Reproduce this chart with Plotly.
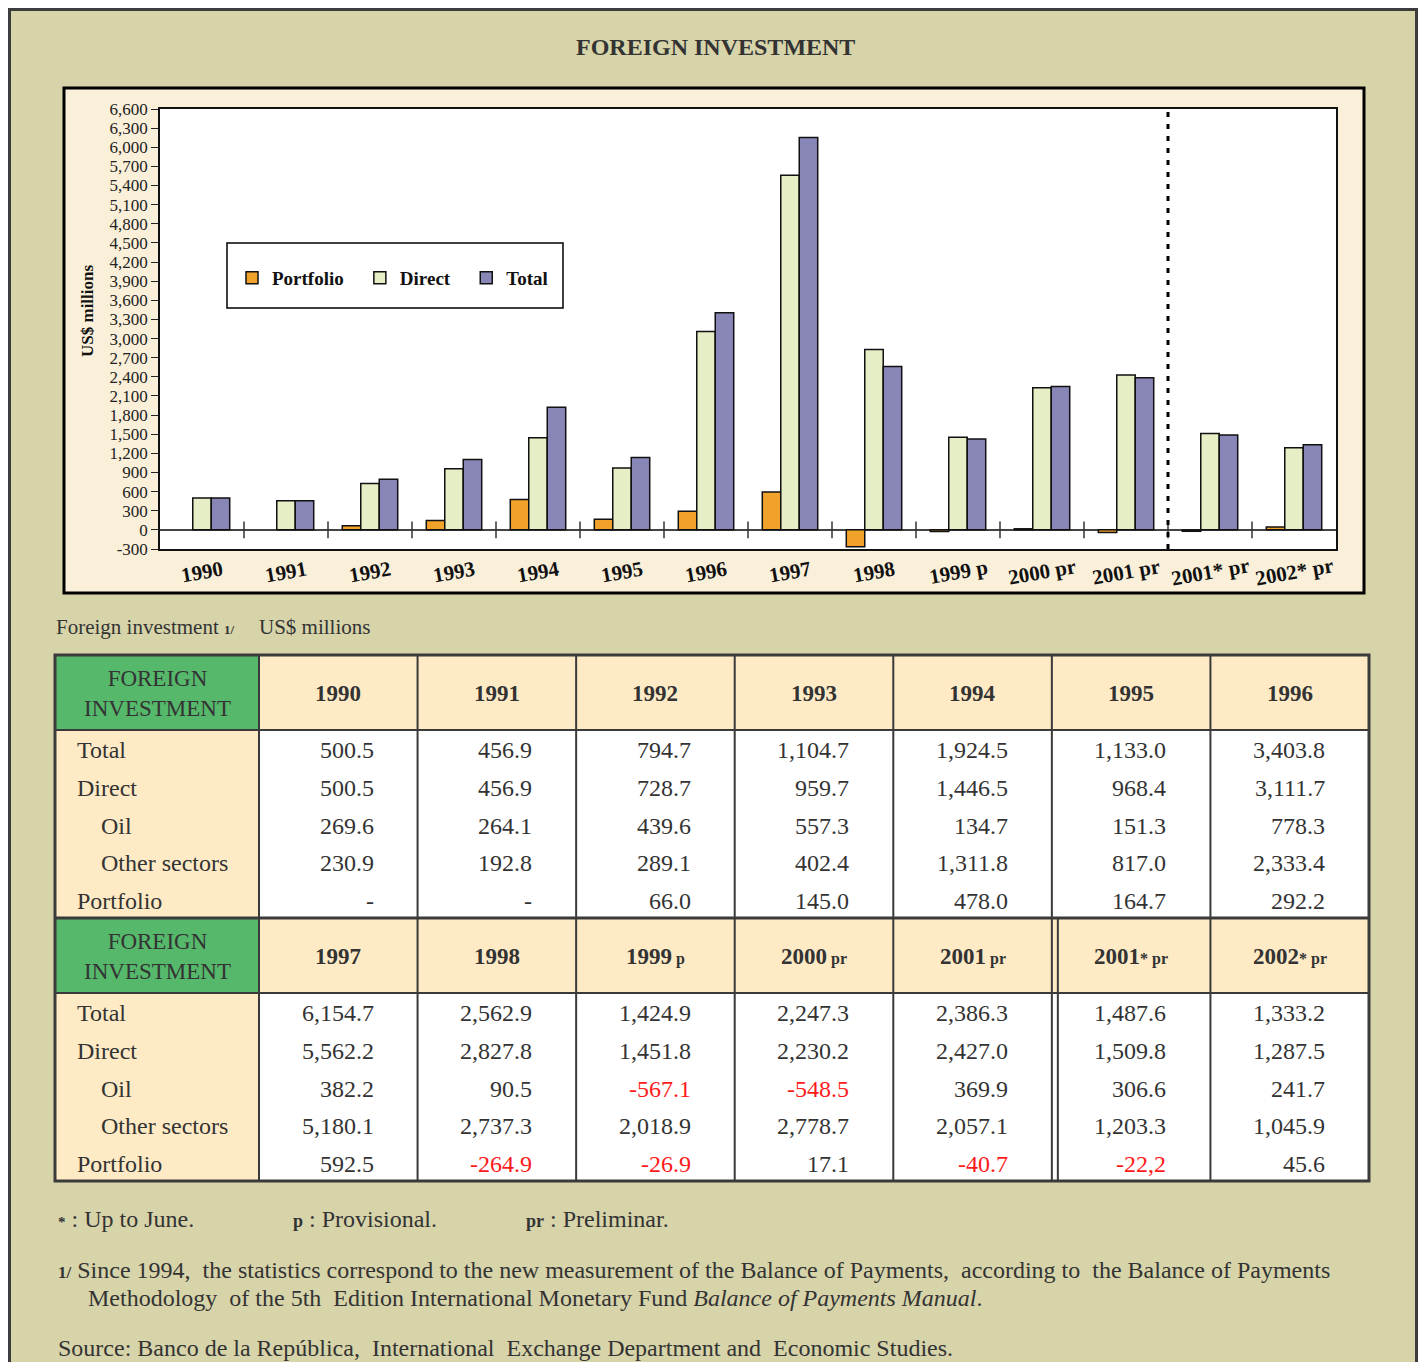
import plotly.graph_objects as go

# ---------------- data ----------------
years = ["1990", "1991", "1992", "1993", "1994", "1995", "1996",
         "1997", "1998", "1999", "2000", "2001", "2001", "2002"]
suffix = ["", "", "", "", "", "", "", "", "", " p", " pr", " pr", "* pr", "* pr"]
total = [500.5, 456.9, 794.7, 1104.7, 1924.5, 1133.0, 3403.8,
         6154.7, 2562.9, 1424.9, 2247.3, 2386.3, 1487.6, 1333.2]
direct = [500.5, 456.9, 728.7, 959.7, 1446.5, 968.4, 3111.7,
          5562.2, 2827.8, 1451.8, 2230.2, 2427.0, 1509.8, 1287.5]
oil = [269.6, 264.1, 439.6, 557.3, 134.7, 151.3, 778.3,
       382.2, 90.5, -567.1, -548.5, 369.9, 306.6, 241.7]
other_sectors = [230.9, 192.8, 289.1, 402.4, 1311.8, 817.0, 2333.4,
                 5180.1, 2737.3, 2018.9, 2778.7, 2057.1, 1203.3, 1045.9]
portfolio = [None, None, 66.0, 145.0, 478.0, 164.7, 292.2,
             592.5, -264.9, -26.9, 17.1, -40.7, -22.2, 45.6]
row_names = ["Total", "Direct", "Oil", "Other sectors", "Portfolio"]
row_indent = [False, False, True, True, False]
row_series = [total, direct, oil, other_sectors, portfolio]
display_override = {(4, 12): "-22,2"}  # as printed in the source table
y_ticks = list(range(-300, 6601, 300))
y_ticktext = [f"{v:,}" for v in y_ticks]

# ---------------- layout helpers ----------------
# page body has an 8px margin: figure is sized so the page fits the window exactly
OFF = 8
W, H = 1426 - 2 * OFF, 1370 - 2 * OFF
SERIF = "Liberation Serif, Times New Roman, serif"
TXT = "#333333"
OLIVE = "#d7d4aa"
CREAM = "#faf0da"
TCREAM = "#feebc6"
GREEN = "#56b86b"
LINE = "#3a3a3a"


def PX(x):
    return (x - OFF) / W


def PY(y):
    return 1 - (y - OFF) / H


def note(text, x, y, size, color=TXT, xanchor="left", yanchor="middle", angle=0):
    return dict(text=text, x=PX(x), y=PY(y), xref="paper", yref="paper",
                xanchor=xanchor, yanchor=yanchor, showarrow=False, textangle=angle,
                font=dict(family=SERIF, size=size, color=color))


cats = list(range(len(years)))
chart_labels = [y + s for y, s in zip(years, suffix)]

fig = go.Figure()
colors = {"Portfolio": "#f0a22a", "Direct": "#e6eec5", "Total": "#8886b6"}
for name, vals in [("Portfolio", portfolio), ("Direct", direct), ("Total", total)]:
    fig.add_trace(go.Bar(
        x=cats, y=vals, name="<b>" + name + "</b>\u2002\u200a",
        marker=dict(color=colors[name], line=dict(color="#111111", width=1.5)),
        hoverinfo="skip",
    ))

# category boundary ticks on zero line
fig.add_trace(go.Scatter(
    x=[c + 0.5 for c in cats[:-1]], y=[0] * (len(cats) - 1),
    mode="markers", showlegend=False, hoverinfo="skip",
    marker=dict(symbol="line-ns", size=12, line=dict(color="#333333", width=1.5)),
))

shapes = []
annotations = []

# outer olive page frame
shapes.append(dict(type="rect", xref="paper", yref="paper", layer="below",
                   x0=PX(9.5), x1=PX(1416.5), y0=PY(1400), y1=PY(9.5),
                   fillcolor=OLIVE, line=dict(color="#3c3c3c", width=3)))
# chart box
shapes.append(dict(type="rect", xref="paper", yref="paper", layer="below",
                   x0=PX(64), x1=PX(1364), y0=PY(593), y1=PY(88),
                   fillcolor=CREAM, line=dict(color="#000000", width=3)))
# white plot area
shapes.append(dict(type="rect", xref="x domain", yref="y domain", layer="below",
                   x0=0, x1=1, y0=0, y1=1, fillcolor="white", line=dict(width=0)))
# legend box
shapes.append(dict(type="rect", xref="paper", yref="paper", layer="below",
                   x0=PX(227), x1=PX(563), y0=PY(308), y1=PY(243),
                   fillcolor="white", line=dict(color="#000000", width=1.5)))
# dotted separator between 2001 pr and 2001* pr
shapes.append(dict(type="line", xref="x", yref="y domain", layer="above",
                   x0=11.5, x1=11.5, y0=0, y1=1,
                   line=dict(color="#000000", width=3, dash="5px,7px")))

# title
annotations.append(note("<b>FOREIGN INVESTMENT</b>", 715, 47, 24, xanchor="center"))
# y title
annotations.append(note("<b>US$ millions</b>", 87, 311, 17, color="#111111",
                        xanchor="center", angle=-90))
# x category labels
for c, lab in zip(cats, chart_labels):
    annotations.append(dict(text="<b>" + lab + "</b>", x=c, xref="x",
                            y=PY(572), yref="paper", xanchor="center", yanchor="middle",
                            showarrow=False, textangle=-10,
                            font=dict(family=SERIF, size=21, color="#111111")))

# ---------------- table ----------------
annotations.append(note("Foreign investment <b><span style='font-size:13px'>1/</span></b>",
                        54, 627, 21))
annotations.append(note("US$ millions", 257, 627, 21))

T_LEFT, T_LABEL_R, T_RIGHT = 55, 259, 1369
NCOL = 7
col_w = (T_RIGHT - T_LABEL_R) / NCOL
col_edges = [T_LEFT] + [T_LABEL_R + i * col_w for i in range(NCOL + 1)]
HEAD_H, ROW_H = 75, 37.6
sec_tops = [655, 918]

for s, top in enumerate(sec_tops):
    head_bot = top + HEAD_H
    sec_bot = head_bot + ROW_H * len(row_names)
    idx = list(range(s * NCOL, (s + 1) * NCOL))
    # fills
    for x0, x1, y0, y1, fc in [
        (col_edges[0], col_edges[1], top, head_bot, GREEN),
        (col_edges[1], col_edges[-1], top, head_bot, TCREAM),
        (col_edges[0], col_edges[1], head_bot, sec_bot, TCREAM),
        (col_edges[1], col_edges[-1], head_bot, sec_bot, "white"),
    ]:
        shapes.append(dict(type="rect", xref="paper", yref="paper", layer="below",
                           x0=PX(x0), x1=PX(x1), y0=PY(y1), y1=PY(y0),
                           fillcolor=fc, line=dict(width=0)))
    # header texts
    annotations.append(note("FOREIGN<br>INVESTMENT", (col_edges[0] + col_edges[1]) / 2,
                            top + HEAD_H / 2 + 1, 23, xanchor="center"))
    for j, k in enumerate(idx):
        head = "<b>" + years[k] + "</b>"
        if suffix[k]:
            head += "<b><span style='font-size:16px'>" + suffix[k] + "</span></b>"
        annotations.append(note(head, (col_edges[j + 1] + col_edges[j + 2]) / 2,
                                top + HEAD_H / 2 + 1, 23, xanchor="center"))
    # rows
    for r, (rname, ind, series) in enumerate(zip(row_names, row_indent, row_series)):
        yc = head_bot + ROW_H * (r + 0.5) + 1.5
        annotations.append(note(rname, 99 if ind else 75, yc, 24))
        for j, k in enumerate(idx):
            v = series[k]
            if v is None:
                txt, colr = "-", TXT
            else:
                txt = display_override.get((r, k), f"{v:,.1f}")
                colr = "#ff1a1a" if v < 0 else TXT
            annotations.append(note(txt, col_edges[j + 2] - 42, yc, 24, color=colr,
                                    xanchor="right"))
    # grid lines
    for e in col_edges[1:-1]:
        shapes.append(dict(type="line", xref="paper", yref="paper",
                           x0=PX(e), x1=PX(e), y0=PY(sec_bot), y1=PY(top),
                           line=dict(color=LINE, width=2)))
    shapes.append(dict(type="line", xref="paper", yref="paper",
                       x0=PX(T_LEFT), x1=PX(T_RIGHT), y0=PY(head_bot), y1=PY(head_bot),
                       line=dict(color=LINE, width=2)))
    if s == 1:
        e2 = col_edges[6] + 6
        shapes.append(dict(type="line", xref="paper", yref="paper",
                           x0=PX(e2), x1=PX(e2), y0=PY(sec_bot), y1=PY(top),
                           line=dict(color=LINE, width=2)))

# section divider and outer border
shapes.append(dict(type="line", xref="paper", yref="paper",
                   x0=PX(T_LEFT), x1=PX(T_RIGHT), y0=PY(sec_tops[1]), y1=PY(sec_tops[1]),
                   line=dict(color=LINE, width=3)))
t_bot = sec_tops[1] + HEAD_H + ROW_H * len(row_names)
shapes.append(dict(type="rect", xref="paper", yref="paper",
                   x0=PX(T_LEFT), x1=PX(T_RIGHT), y0=PY(t_bot), y1=PY(sec_tops[0]),
                   line=dict(color=LINE, width=3)))

# ---------------- footnotes ----------------
notes = [
    ("<b><span style='font-size:15px'>*</span></b> : Up to June.", 56, 1219),
    ("<b><span style='font-size:18px'>p</span></b> : Provisional.", 291, 1219),
    ("<b><span style='font-size:18px'>pr</span></b> : Preliminar.", 524, 1219),
    ("<b><span style='font-size:17px'>1/</span></b> Since 1994,\u00a0 the statistics correspond to the new "
     "measurement of the Balance of Payments,\u00a0 according to\u00a0 the Balance of Payments", 56, 1270),
    ("Methodology\u00a0 of the 5th\u00a0 Edition International Monetary Fund "
     "<i>Balance of Payments Manual</i>.", 86, 1298),
    ("Source: Banco de la República,\u00a0 International\u00a0 Exchange Department and\u00a0 "
     "Economic Studies.", 56, 1348),
]
for txt, x, y in notes:
    annotations.append(note(txt, x, y, 24))

fig.update_layout(
    width=W, height=H, margin=dict(l=0, r=0, t=0, b=0, autoexpand=False),
    paper_bgcolor="white", plot_bgcolor="white",
    barmode="group", bargap=0.34, bargroupgap=0,
    showlegend=True,
    legend=dict(orientation="h", x=PX(232), y=PY(278), xanchor="left", yanchor="middle",
                bgcolor="rgba(0,0,0,0)", borderwidth=0, itemwidth=30,
                font=dict(family=SERIF, size=19, color="#111111"),
                traceorder="normal"),
    xaxis=dict(domain=[PX(160), PX(1336)], range=[-0.5, len(cats) - 0.5],
               showticklabels=False, ticks="", showgrid=False, zeroline=False,
               showline=True, mirror=True, linecolor="#111111", linewidth=1.5,
               fixedrange=True),
    yaxis=dict(domain=[PY(549), PY(109)], range=[-300, 6600],
               tickmode="array", tickvals=y_ticks, ticktext=y_ticktext,
               ticks="outside", ticklen=7, tickcolor="#222222",
               tickwidth=1, showgrid=False, zeroline=True, zerolinecolor="#444444",
               zerolinewidth=2, showline=True, mirror=True, linecolor="#111111",
               linewidth=1.5, tickfont=dict(family=SERIF, size=17, color="#222222"),
               fixedrange=True),
    shapes=shapes, annotations=annotations,
)

fig.write_html("out.html")
